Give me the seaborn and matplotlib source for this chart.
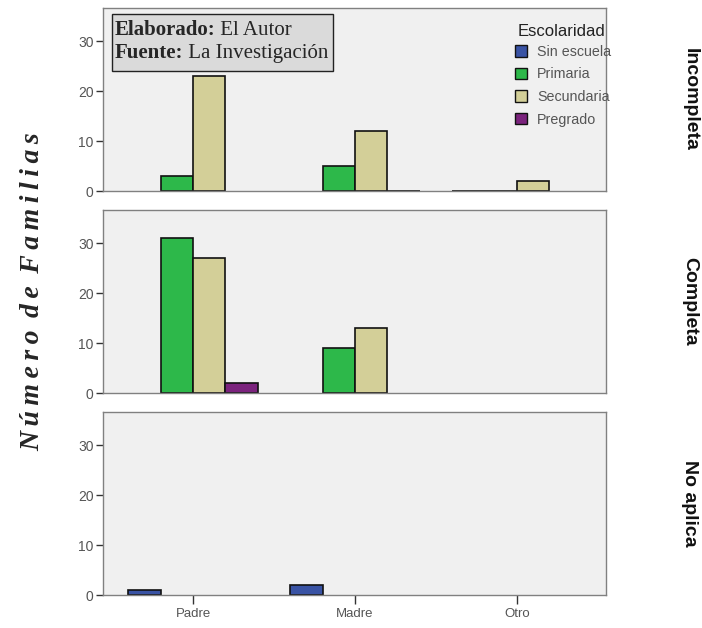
import pandas as pd
import seaborn as sns
import matplotlib.pyplot as plt
from matplotlib.patches import Patch, Rectangle

# datos
parentesco = ['Padre', 'Madre', 'Otro']
escolaridad = ['Sin escuela', 'Primaria', 'Secundaria', 'Pregrado']
condiciones = ['Incompleta', 'Completa', 'No aplica']
colores = ['#3953a4', '#2db84a', '#d3cf98', '#7b237d']

incompleta_rel = ['Padre', 'Padre', 'Madre', 'Madre', 'Madre', 'Otro', 'Otro', 'Otro']
incompleta_esc = ['Primaria', 'Secundaria', 'Primaria', 'Secundaria', 'Pregrado',
                  'Sin escuela', 'Primaria', 'Secundaria']
incompleta_n = [3, 23, 5, 12, 0, 0, 0, 2]

completa_rel = ['Padre', 'Padre', 'Padre', 'Madre', 'Madre']
completa_esc = ['Primaria', 'Secundaria', 'Pregrado', 'Primaria', 'Secundaria']
completa_n = [31, 27, 2, 9, 13]

noaplica_rel = ['Padre', 'Madre']
noaplica_esc = ['Sin escuela', 'Sin escuela']
noaplica_n = [1, 2]

df = pd.concat([
    pd.DataFrame({'cond': 'Incompleta', 'rel': incompleta_rel, 'esc': incompleta_esc, 'n': incompleta_n}),
    pd.DataFrame({'cond': 'Completa', 'rel': completa_rel, 'esc': completa_esc, 'n': completa_n}),
    pd.DataFrame({'cond': 'No aplica', 'rel': noaplica_rel, 'esc': noaplica_esc, 'n': noaplica_n}),
])

sns.set_style('white')
plt.rcParams['font.family'] = ['Liberation Sans', 'DejaVu Sans']

fig, axes = plt.subplots(3, 1, figsize=(7.02, 6.28), dpi=100, sharex=True)
fig.subplots_adjust(left=0.147, right=0.863, top=0.987, bottom=0.0525, hspace=0.104)

for ax, cond in zip(axes, condiciones):
    sub = df[df['cond'] == cond]
    sns.barplot(data=sub, x='rel', y='n', hue='esc', order=parentesco, hue_order=escolaridad,
                palette=colores, saturation=1, dodge=True, edgecolor='#111111', linewidth=1.2,
                width=0.8, errorbar=None, legend=False, ax=ax)
    ax.set_facecolor('#f0f0f0')
    ax.set_xlim(-0.555, 2.55)
    ax.set_ylim(0, 36.6)
    ax.set_yticks([0, 10, 20, 30])
    ax.set_xlabel('')
    ax.set_ylabel('')
    for s in ax.spines.values():
        s.set_color('#808080')
        s.set_linewidth(1.0)
    ax.tick_params(axis='y', direction='out', length=5, width=1, color='#333333',
                   labelsize=10, labelcolor='#555555', left=True, pad=2)
    ax.tick_params(axis='x', direction='out', length=6.5, width=1, color='#333333',
                   labelsize=9.5, labelcolor='#555555', bottom=(cond == 'No aplica'), pad=3)
    ax.text(1.167, 0.5, cond, transform=ax.transAxes, rotation=-90, ha='center', va='center',
            fontsize=14, fontweight='bold', color='#111111')

# leyenda
ax0 = axes[0]
ax0.text(0.825, 0.874, 'Escolaridad', transform=ax0.transAxes, ha='left', va='center',
         fontsize=12, color='#222222')
handles = [Patch(facecolor=c, edgecolor='#111111', label=e) for c, e in zip(colores, escolaridad)]
leg = ax0.legend(handles=handles, loc='upper left', bbox_to_anchor=(0.819, 0.80),
                 frameon=False, fontsize=10.3, handlelength=0.85, handleheight=0.85,
                 labelspacing=0.6, handletextpad=0.7, borderaxespad=0, borderpad=0)
for t in leg.get_texts():
    t.set_color('#555555')

# recuadro de fuente
ax0.add_patch(Rectangle((0.018, 0.656), 0.44, 0.311, transform=ax0.transAxes,
                        facecolor='#dadada', edgecolor='#222222', linewidth=1, zorder=5))
for txt_b, txt_r, yy in [('Elaborado:', ' El Autor', 0.852), ('Fuente:', ' La Investigación', 0.727)]:
    tb = ax0.text(0.022, yy, txt_b, transform=ax0.transAxes, ha='left', va='baseline',
                  fontsize=15, fontweight='bold', family='Liberation Serif', zorder=6)
    ax0.annotate(txt_r, xy=(1, 0), xycoords=tb, ha='left', va='bottom',
                 fontsize=15, family='Liberation Serif', zorder=6)

# etiqueta eje y
ts = '\u2009'
ylab = (ts.join('Número') + ' ' + ts + ts.join('de') + ' ' + ts + ts.join('Familias'))
fig.text(0.047, 0.535, ylab, rotation=90, ha='center', va='center',
         fontsize=20, fontweight='bold', fontstyle='italic',
         family=['Liberation Serif', 'DejaVu Serif'])

plt.savefig('out.png', dpi=100)
